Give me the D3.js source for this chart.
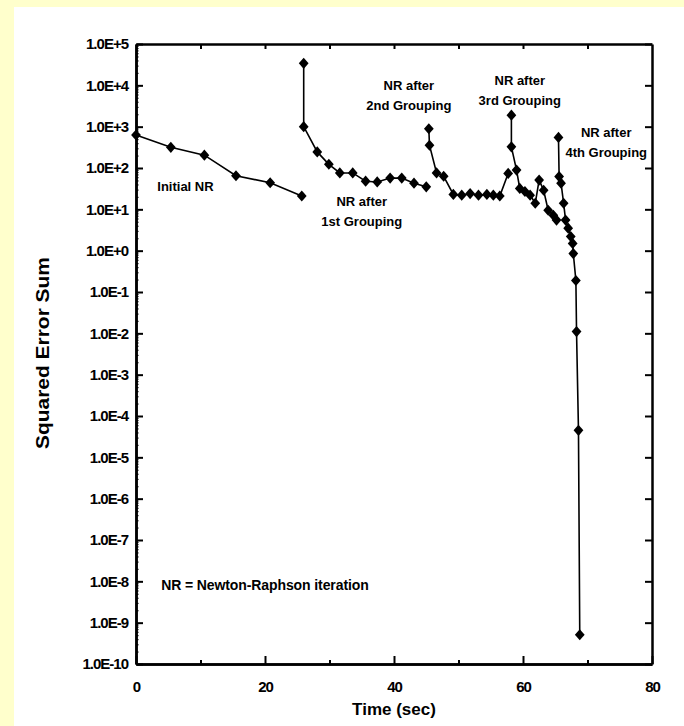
<!DOCTYPE html>
<html>
<head>
<meta charset="utf-8">
<script src="https://cdn.jsdelivr.net/npm/d3@7"></script>
<style>
  body { margin: 0; background: #ffffcc; }
  svg text { font-family: "Liberation Sans", Arial, Helvetica, sans-serif; font-weight: bold; fill: #000; }
</style>
</head>
<body>
<svg id="nr_plot" width="684" height="726"></svg>
<script>
// series: [time (sec), squared error sum]
const initialNR = [[0, 630], [5.4, 316], [10.6, 204], [15.5, 65], [20.8, 44], [25.7, 21]];
const group1 = [[26.0, 34000], [26.0, 1000], [28.1, 245], [29.9, 123], [31.6, 76], [33.6, 76],
  [35.6, 48], [37.4, 46], [39.4, 57], [41.2, 57], [43.1, 43], [45.0, 35]];
const group2 = [[45.4, 890], [45.5, 355], [46.6, 76], [47.7, 63], [49.2, 23], [50.5, 22],
  [51.8, 24], [53.1, 22], [54.4, 23], [55.4, 22], [56.4, 21], [57.7, 74]];
const group3 = [[58.2, 1900], [58.2, 325], [59.0, 89], [59.5, 32], [60.3, 27], [61.1, 22],
  [61.9, 14], [62.5, 51], [63.2, 29], [63.9, 9.5], [64.7, 7.2], [65.2, 5.5]];
const group4 = [[65.5, 550], [65.6, 62], [65.9, 43], [66.3, 14], [66.6, 5.5], [67.0, 3.5],
  [67.4, 2.2], [67.7, 1.5], [67.8, 0.85], [68.2, 0.19], [68.3, 0.011], [68.6, 4.5e-5], [68.8, 5.1e-10]];
const allSeries = [initialNR, group1, group2, group3, group4];

// axes
const yTickValues = [1e5, 1e4, 1e3, 1e2, 1e1, 1e0, 1e-1, 1e-2, 1e-3, 1e-4, 1e-5, 1e-6, 1e-7, 1e-8, 1e-9, 1e-10];
const yTickLabels = ["1.0E+5", "1.0E+4", "1.0E+3", "1.0E+2", "1.0E+1", "1.0E+0", "1.0E-1", "1.0E-2",
  "1.0E-3", "1.0E-4", "1.0E-5", "1.0E-6", "1.0E-7", "1.0E-8", "1.0E-9", "1.0E-10"];
const xTickValues = [0, 20, 40, 60, 80];
const xMinorValues = [10, 30, 50, 70];
const xTopValues = [10, 20, 30, 40, 50, 60, 70];

// text
const yTitle = "Squared Error Sum";
const xTitle = "Time (sec)";
const labelInitial = "Initial NR";
const labelGroups = [["NR after", "1st Grouping"], ["NR after", "2nd Grouping"],
  ["NR after", "3rd Grouping"], ["NR after", "4th Grouping"]];
const noteText = "NR = Newton-Raphson iteration";

const svg = d3.select("svg#nr_plot");

// white panel on the yellow page
svg.append("rect")
  .attr("x", 14).attr("y", 7)
  .attr("width", 670).attr("height", 719)
  .attr("fill", "#fff");

//chart plot area
const area = { left: 136, right: 652, top: 44, bottom: 664 };

const x = d3.scaleLinear().domain([0, 80]).range([area.left, area.right]);
const y = d3.scaleLog().domain([1e-10, 1e5]).range([area.bottom, area.top]);

const styleAxis = g => {
  g.select(".domain").attr("stroke", "#000").attr("stroke-width", 2.5);
  g.selectAll(".tick line").attr("stroke", "#000").attr("stroke-width", 2);
  g.attr("font-size", 15).attr("font-family", null);
  g.selectAll("text").attr("letter-spacing", -1);
};

// minor log ticks on the left
const yMinor = [];
for (let e = -10; e < 5; e++) for (let m = 2; m < 10; m++) yMinor.push(m * Math.pow(10, e));

svg.append("g")
  .attr("transform", `translate(${area.left},0)`)
  .call(d3.axisLeft(y).tickValues(yMinor).tickFormat("").tickSize(-2.5).tickSizeOuter(0))
  .call(styleAxis)
  .call(g => g.selectAll(".tick line").attr("stroke-width", 1.2));

svg.append("g")
  .attr("transform", `translate(${area.left},0)`)
  .call(d3.axisLeft(y).tickValues(yTickValues).tickFormat((d, i) => yTickLabels[i])
    .tickSize(-7).tickSizeOuter(0).tickPadding(8))
  .call(styleAxis);

svg.append("g")
  .attr("transform", `translate(${area.right},0)`)
  .call(d3.axisRight(y).tickValues(yTickValues).tickFormat("").tickSize(-7).tickSizeOuter(0))
  .call(styleAxis);

svg.append("g")
  .attr("transform", `translate(0,${area.top})`)
  .call(d3.axisTop(x).tickValues(xTopValues).tickFormat("").tickSize(-5).tickSizeOuter(0))
  .call(styleAxis);

svg.append("g")
  .attr("transform", `translate(0,${area.bottom})`)
  .call(d3.axisBottom(x).tickValues(xMinorValues).tickFormat("").tickSize(-4).tickSizeOuter(0))
  .call(styleAxis);

svg.append("g")
  .attr("transform", `translate(0,${area.bottom})`)
  .call(d3.axisBottom(x).tickValues(xTickValues).tickSize(-8).tickSizeOuter(0).tickPadding(17))
  .call(styleAxis);

// axis titles
svg.append("text")
  .attr("transform", "translate(49,353) rotate(-90)")
  .attr("text-anchor", "middle")
  .attr("font-size", 18)
  .attr("textLength", 192)
  .attr("lengthAdjust", "spacingAndGlyphs")
  .text(yTitle);

svg.append("text")
  .attr("x", x(40)).attr("y", 715)
  .attr("text-anchor", "middle")
  .attr("font-size", 17)
  .text(xTitle);

// lines and diamonds
const line = d3.line().x(d => x(d[0])).y(d => y(d[1]));
const diamond = d3.symbol().type(d3.symbolDiamond2 || d3.symbolDiamond).size(72);

const plot = svg.append("g");
allSeries.forEach(series => {
  plot.append("path")
    .datum(series)
    .attr("d", line)
    .attr("fill", "none")
    .attr("stroke", "#000")
    .attr("stroke-width", 1.6);
  plot.selectAll(null)
    .data(series)
    .enter()
    .append("path")
    .attr("d", diamond)
    .attr("transform", d => `translate(${x(d[0])},${y(d[1])}) scale(0.92,1.05)`)
    .attr("fill", "#000");
});

// annotations
const notes = svg.append("g").attr("font-size", 13);

notes.append("text")
  .attr("x", x(3.3)).attr("y", y(35)).attr("dy", "0.35em")
  .text(labelInitial);

const groupAnchors = [[35.0, 201], [42.3, 85], [59.5, 80], [72.9, 132]];
labelGroups.forEach((lines, i) => {
  const t = notes.append("text")
    .attr("text-anchor", "middle")
    .attr("transform", `translate(${x(groupAnchors[i][0])},${groupAnchors[i][1]})`);
  lines.forEach((s, j) => {
    t.append("tspan").attr("x", 0).attr("y", j * 20).attr("dy", "0.35em").text(s);
  });
});

svg.append("text")
  .attr("x", x(3.9)).attr("y", y(8e-9)).attr("dy", "0.35em")
  .attr("font-size", 14)
  .attr("letter-spacing", -0.1)
  .text(noteText);
</script>
</body>
</html>
